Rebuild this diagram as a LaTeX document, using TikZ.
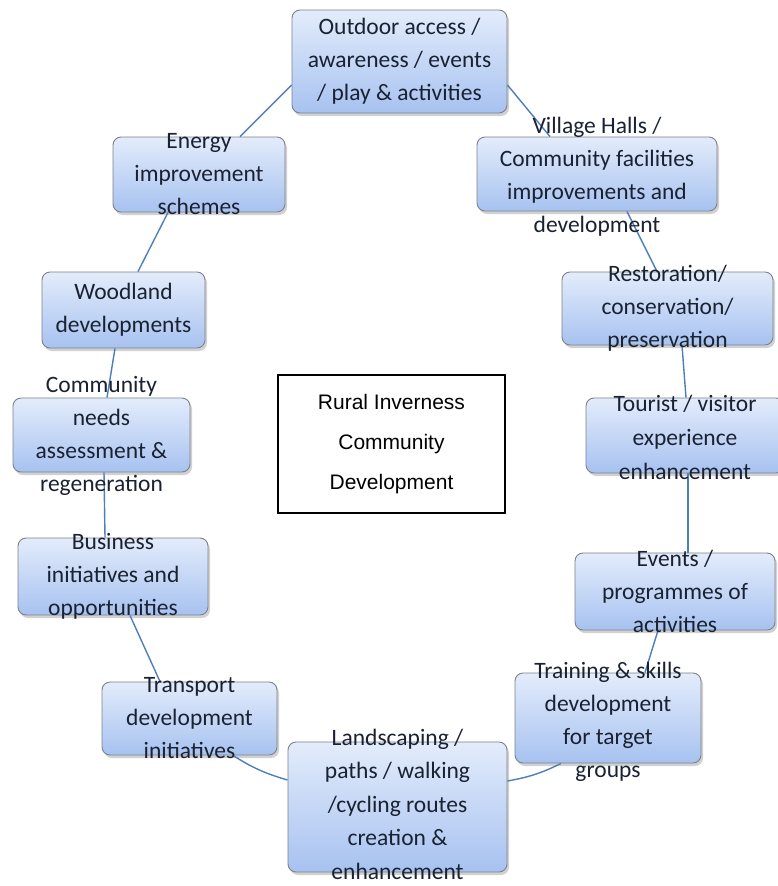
\documentclass[tikz,border=0pt]{standalone}
\usepackage{fontspec}
\setmainfont{Carlito}
\newfontfamily\ctrfont{Liberation Sans}
\usetikzlibrary{shadows}
\definecolor{boxtop}{HTML}{E3ECFB}
\definecolor{boxbot}{HTML}{A7C2F0}
\definecolor{boxline}{HTML}{7D828C}
\definecolor{linkblue}{HTML}{4F7FBA}
\definecolor{txtcol}{HTML}{1A2232}
\tikzset{
  bluebox/.style={rectangle, rounded corners=8pt, draw=boxline, line width=0.9pt,
    top color=boxtop, bottom color=boxbot, inner sep=0pt,
    drop shadow={shadow xshift=2pt, shadow yshift=-3pt, fill=gray!45, opacity=0.8}},
  boxtext/.style={align=center, inner sep=0pt, text=txtcol,
    font=\fontsize{23.5}{33}\selectfont},
  link/.style={draw=linkblue, line width=1.4pt},
  ctrbox/.style={rectangle, draw=black, line width=1.3pt, fill=white, inner sep=0pt,
    minimum width=227pt, minimum height=138pt},
  ctrtext/.style={align=center, inner sep=0pt, text=black,
    font=\ctrfont\fontsize{21}{40}\selectfont}
}
\begin{document}
\begin{tikzpicture}[x=1pt,y=-1pt]
\useasboundingbox (0,0) rectangle (778,886);
\fill[white] (0,0) rectangle (778,886);

% boxes
\node[bluebox, minimum width=215pt, minimum height=103pt] (out) at (399.5,61.5) {};
\node[bluebox, minimum width=240pt, minimum height=74pt] (vil) at (597,174) {};
\node[bluebox, minimum width=211pt, minimum height=73pt] (res) at (667.5,308.5) {};
\node[bluebox, minimum width=198pt, minimum height=75pt] (tou) at (685,435.5) {};
\node[bluebox, minimum width=200pt, minimum height=77pt] (evt) at (675,591.5) {};
\node[bluebox, minimum width=186pt, minimum height=90pt] (trn) at (608,718) {};
\node[bluebox, minimum width=219pt, minimum height=130pt] (lnd) at (397.5,807) {};
\node[bluebox, minimum width=175pt, minimum height=73pt] (trp) at (189.5,718.5) {};
\node[bluebox, minimum width=190pt, minimum height=77pt] (bus) at (113,576.5) {};
\node[bluebox, minimum width=177pt, minimum height=74pt] (com) at (101.5,435) {};
\node[bluebox, minimum width=163pt, minimum height=76pt] (wod) at (123.5,310) {};
\node[bluebox, minimum width=172pt, minimum height=75pt] (eng) at (199,174.5) {};

% connectors
\draw[link] ([yshift=-23.5pt]out.west) -- ([xshift=41pt]eng.north);
\draw[link] ([yshift=-23.5pt]out.east) -- ([xshift=-47pt]vil.north);
\draw[link] ([xshift=30pt]vil.south) -- ([xshift=-10.5pt]res.north);
\draw[link] ([xshift=14.5pt]res.south) -- ([xshift=1pt]tou.north);
\draw[link] ([xshift=3pt]tou.south) -- ([xshift=13pt]evt.north);
\draw[link] ([xshift=-17pt]evt.south) -- ([xshift=37pt]trn.north);
\draw[link] ([xshift=-47pt]trn.south) to[bend left=8] ([yshift=26pt]lnd.east);
\draw[link] ([yshift=27pt]lnd.west) to[bend left=8] ([xshift=43.5pt]trp.south);
\draw[link] ([xshift=-29.5pt]trp.north) -- ([xshift=17pt]bus.south);
\draw[link] ([xshift=-8pt]bus.north) -- ([xshift=2.5pt]com.south);
\draw[link] ([xshift=5.5pt]com.north) -- ([xshift=-8.5pt]wod.south);
\draw[link] ([xshift=14.5pt]wod.north) -- ([xshift=-31pt]eng.south);

% texts
\node[boxtext] (outT) at (out) {Outdoor access /\\awareness / events\\/ play \& activities};
\node[boxtext] (vilT) at (597,177) {Village Halls /\\Community facilities\\improvements and\\development};
\node[boxtext] (resT) at (res) {Restoration/\\conservation/\\preservation};
\node[boxtext, font=\fontsize{23.5}{34}\selectfont] (touT) at (685,437) {Tourist / visitor\\experience\\enhancement};
\node[boxtext] (evtT) at (evt) {Events /\\programmes of\\activities};
\node[boxtext] (trnT) at (608,722) {Training \& skills\\development\\for target\\groups};
\node[boxtext, font=\fontsize{23.5}{33.5}\selectfont] (lndT) at (397.5,804) {Landscaping /\\paths / walking\\/cycling routes\\creation \&\\enhancement};
\node[boxtext] (trpT) at (trp) {Transport\\development\\initiatives};
\node[boxtext] (busT) at (bus) {Business\\initiatives and\\opportunities};
\node[boxtext] (comT) at (101.5,436) {Community\\needs\\assessment \&\\regeneration};
\node[boxtext] (wodT) at (wod) {Woodland\\developments};
\node[boxtext] (engT) at (eng) {Energy\\improvement\\schemes};

% centre
\node[ctrbox] (ctr) at (391.5,444) {};
\node[ctrtext] (ctrT) at (ctr) {Rural Inverness\\Community\\Development};
\end{tikzpicture}
\end{document}
